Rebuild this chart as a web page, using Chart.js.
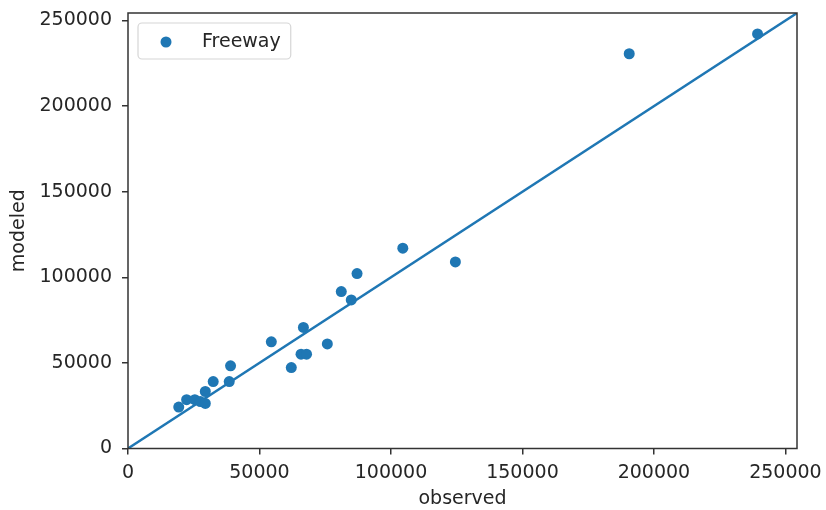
<!DOCTYPE html>
<html>
<head>
<meta charset="utf-8">
<title>observed vs modeled</title>
<script src="https://cdn.jsdelivr.net/npm/chart.js@4"></script>
<style>
  html, body { margin: 0; padding: 0; background: #fff; }
  #wrap { width: 826px; height: 510px; }
</style>
</head>
<body>
<div id="wrap"><canvas id="chart" width="826" height="510"></canvas></div>
<script>
// Freeway volumes: observed vs modeled
const observed = [19300, 22300, 25400, 27500, 29400, 29400, 32400, 38500, 39000,
  54500, 62100, 65800, 67900, 66700, 75800, 81100, 84900, 87100, 104500, 124500,
  190600, 239400];
const modeled = [24200, 28500, 28500, 27400, 26300, 33300, 39100, 39100, 48300,
  62300, 47300, 55100, 55100, 70700, 61100, 91700, 86800, 102200, 117000, 109000,
  230600, 242200];

// 1:1 reference line and axis limits
const axisMax = 254400;
const lineX = [0, axisMax];
const lineY = [0, axisMax];
const tickValues = [0, 50000, 100000, 150000, 200000, 250000];

const seriesName = 'Freeway';
const blue = '#1f77b4';
const ink = '#262626';
const spine = '#333333';
const FONT = 'DejaVu Sans';

const scatterPts = observed.map((x, i) => ({ x, y: modeled[i] }));
const linePts = lineX.map((x, i) => ({ x, y: lineY[i] }));

// frame on all four sides + matplotlib style legend box
const framePlugin = {
  id: 'frame',
  afterDraw(chart) {
    const { ctx, chartArea: a } = chart;
    ctx.save();
    ctx.strokeStyle = spine;
    ctx.lineWidth = 1.5;
    ctx.strokeRect(a.left, a.top, a.right - a.left, a.bottom - a.top);

    // legend
    const ds = chart.data.datasets[0];
    ctx.font = '19px "' + FONT + '"';
    const tw = ctx.measureText(ds.label).width;
    const bx = a.left + 10, by = a.top + 10;
    const bw = tw + 74, bh = 36;
    ctx.beginPath();
    ctx.roundRect(bx, by, bw, bh, 4);
    ctx.fillStyle = 'rgba(255,255,255,0.8)';
    ctx.fill();
    ctx.strokeStyle = '#d6d6d6';
    ctx.lineWidth = 1.2;
    ctx.stroke();
    ctx.beginPath();
    ctx.arc(bx + 28, by + bh / 2 + 1, 5.5, 0, Math.PI * 2);
    ctx.fillStyle = ds.backgroundColor;
    ctx.fill();
    ctx.fillStyle = ink;
    ctx.textBaseline = 'middle';
    ctx.textAlign = 'left';
    ctx.fillText(ds.label, bx + 64, by + bh / 2 + 1);
    ctx.restore();
  }
};

function noScalePadding(scale) {
  scale.paddingTop = 0;
  scale.paddingBottom = 0;
  scale.paddingLeft = 0;
  scale.paddingRight = 0;
}

const axisCommon = {
  type: 'linear',
  min: 0,
  max: axisMax,
  grid: {
    drawOnChartArea: false,
    drawTicks: true,
    tickLength: 6,
    color: spine,
    lineWidth: 1.5
  },
  border: { display: false },
  ticks: {
    color: ink,
    font: { family: FONT, size: 19 },
    callback: v => String(v)
  },
  afterBuildTicks(scale) {
    scale.ticks = tickValues.map(v => ({ value: v }));
  }
};

new Chart(document.getElementById('chart'), {
  data: {
    datasets: [
      {
        type: 'scatter',
        label: seriesName,
        data: scatterPts,
        backgroundColor: blue,
        borderWidth: 0,
        pointRadius: 5.5,
        order: 0
      },
      {
        type: 'line',
        label: '1:1',
        data: linePts,
        borderColor: blue,
        borderWidth: 2.4,
        pointRadius: 0,
        fill: false,
        order: 1
      }
    ]
  },
  options: {
    responsive: false,
    animation: false,
    layout: { padding: { top: 13, right: 29, left: 0, bottom: 0 } },
    plugins: {
      legend: { display: false },
      tooltip: { enabled: false }
    },
    scales: {
      x: {
        ...axisCommon,
        position: 'bottom',
        ticks: { ...axisCommon.ticks, padding: 7, maxRotation: 0 },
        title: {
          display: true,
          text: 'observed',
          color: ink,
          font: { family: FONT, size: 19 },
          padding: { top: 0, bottom: 0 }
        },
        afterFit(scale) { scale.height = 61.5; noScalePadding(scale); }
      },
      y: {
        ...axisCommon,
        position: 'left',
        ticks: { ...axisCommon.ticks, padding: 10 },
        title: {
          display: true,
          text: 'modeled',
          color: ink,
          font: { family: FONT, size: 19 },
          padding: { top: 8, bottom: 0 }
        },
        afterFit(scale) { scale.width = 128; noScalePadding(scale); }
      }
    }
  },
  plugins: [framePlugin]
});
</script>
</body>
</html>
